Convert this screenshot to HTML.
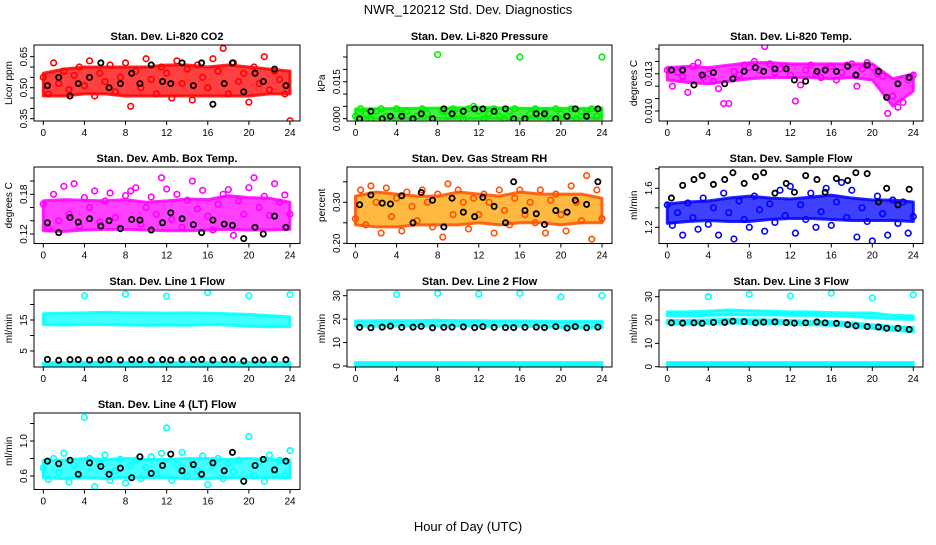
<!DOCTYPE html>
<html><head><meta charset="utf-8"><style>
html,body{margin:0;padding:0;background:#fff;}
svg text{font-family:"Liberation Sans",sans-serif;}
</style></head><body>
<svg id="chart" width="936" height="540" xmlns="http://www.w3.org/2000/svg">
<rect width="936" height="540" fill="#fff"/>
<text x="468" y="14" font-size="13" text-anchor="middle">NWR_120212  Std. Dev. Diagnostics</text>
<text x="468" y="531" font-size="13" text-anchor="middle">Hour of Day (UTC)</text>
<g id="panels"></g>
</svg>
<script>
// ---- data (band hours every 2h: 0..24) ----
const bandHours=[0,2,4,6,8,10,12,14,16,18,20,22,24];
const xTicks=[0,4,8,12,16,20,24];
// CO2
const co2Lo=[0.46,0.46,0.47,0.47,0.46,0.46,0.46,0.46,0.46,0.46,0.46,0.47,0.47];
const co2Hi=[0.57,0.59,0.60,0.60,0.60,0.60,0.61,0.61,0.60,0.61,0.60,0.59,0.58];
const co2Pts=[0.55,0.47,0.62,0.52,0.58,0.49,0.56,0.60,0.51,0.63,0.46,0.57,0.53,0.61,0.48,0.55,0.62,0.41,0.58,0.50,0.64,0.54,0.47,0.60,0.57,0.45,0.63,0.52,0.59,0.44,0.61,0.55,0.50,0.64,0.58,0.69,0.47,0.62,0.53,0.57,0.43,0.60,0.52,0.65,0.49,0.58,0.54,0.47,0.34];
const co2Blk=[0.51,0.55,0.46,0.52,0.55,0.62,0.50,0.52,0.57,0.52,0.61,0.53,0.52,0.62,0.51,0.62,0.42,0.52,0.62,0.48,0.57,0.53,0.59,0.51];
// Pressure
const prLo=[0,0,0,0,0,0,0,0,0,0,0,0,0];
const prHi=[0.0040,0.0040,0.0042,0.0042,0.0043,0.0044,0.0045,0.0044,0.0042,0.0042,0.0042,0.0042,0.0043];
const prPts=[0.001,0.004,0.002,0.000,0.003,0.004,0.001,0.000,0.004,0.002,0.003,0.000,0.001,0.004,0.002,0.000,0.026,0.003,0.001,0.004,0.002,0.000,0.004,0.005,0.003,0.000,0.002,0.004,0.001,0.000,0.003,0.004,0.025,0.000,0.002,0.004,0.001,0.003,0.000,0.004,0.002,0.001,0.004,0.000,0.003,0.002,0.004,0.001,0.025];
const prBlk=[0.000,0.003,0.000,0.001,0.001,0.000,0.002,0.000,0.004,0.002,0.003,0.004,0.004,0.003,0.004,0.000,0.000,0.002,0.002,0.000,0.001,0.004,0.001,0.004];
// Li-820 temp
const ltLo=[0.0125,0.0123,0.0122,0.0124,0.0126,0.0127,0.0127,0.0127,0.0126,0.0127,0.0125,0.0104,0.0116];
const ltHi=[0.0135,0.0136,0.0135,0.0137,0.0139,0.0139,0.0138,0.0138,0.0138,0.0138,0.0138,0.0126,0.0130];
const ltPts=[0.0133,0.0120,0.0131,0.0128,0.0115,0.0136,0.0139,0.0127,0.0130,0.0124,0.0118,0.0106,0.0106,0.0132,0.0129,0.0137,0.0135,0.0140,0.0133,0.0152,0.0138,0.0131,0.0134,0.0136,0.0129,0.0108,0.0121,0.0133,0.0137,0.0130,0.0127,0.0134,0.0136,0.0125,0.0131,0.0137,0.0138,0.0120,0.0134,0.0139,0.0135,0.0130,0.0128,0.0098,0.0112,0.0103,0.0107,0.0125,0.0129];
const ltBlk=[0.0133,0.0133,0.0121,0.0129,0.0131,0.0122,0.0126,0.0132,0.0135,0.0132,0.0134,0.0134,0.0125,0.0124,0.0132,0.0133,0.0132,0.0136,0.0129,0.0137,0.0132,0.0111,0.0122,0.0127];
// Amb box temp
const abLo=[0.125,0.124,0.126,0.127,0.127,0.126,0.125,0.125,0.126,0.127,0.126,0.126,0.127];
const abHi=[0.170,0.172,0.171,0.170,0.172,0.168,0.170,0.173,0.172,0.178,0.175,0.174,0.168];
const abPts=[0.165,0.128,0.180,0.140,0.192,0.150,0.196,0.132,0.175,0.160,0.185,0.138,0.170,0.182,0.145,0.129,0.178,0.185,0.190,0.135,0.160,0.176,0.150,0.205,0.188,0.142,0.180,0.130,0.171,0.200,0.158,0.186,0.147,0.126,0.165,0.180,0.187,0.118,0.170,0.150,0.190,0.205,0.160,0.177,0.148,0.196,0.168,0.179,0.150];
const abBlk=[0.137,0.122,0.145,0.138,0.143,0.132,0.140,0.128,0.142,0.141,0.126,0.137,0.152,0.143,0.134,0.122,0.141,0.135,0.133,0.113,0.130,0.120,0.147,0.130];
// Gas stream RH
const rhLo=[0.245,0.240,0.240,0.245,0.245,0.245,0.250,0.245,0.250,0.250,0.245,0.250,0.250];
const rhHi=[0.315,0.325,0.320,0.315,0.315,0.325,0.320,0.315,0.325,0.320,0.320,0.320,0.310];
const rhPts=[0.260,0.330,0.245,0.340,0.300,0.225,0.335,0.265,0.310,0.230,0.325,0.290,0.255,0.330,0.300,0.240,0.320,0.215,0.345,0.270,0.330,0.300,0.235,0.310,0.270,0.320,0.300,0.225,0.330,0.280,0.245,0.310,0.330,0.270,0.300,0.250,0.330,0.225,0.305,0.320,0.270,0.230,0.340,0.300,0.255,0.365,0.210,0.330,0.260];
const rhBlk=[0.294,0.318,0.298,0.296,0.316,0.250,0.324,0.305,0.240,0.310,0.276,0.265,0.312,0.290,0.250,0.350,0.280,0.272,0.246,0.280,0.276,0.305,0.295,0.350];
// Sample flow
const sfLo=[1.24,1.26,1.27,1.26,1.26,1.28,1.29,1.29,1.28,1.27,1.27,1.27,1.26];
const sfHi=[1.44,1.46,1.47,1.50,1.52,1.50,1.49,1.51,1.53,1.50,1.48,1.48,1.46];
const sfPts=[1.43,1.22,1.35,1.12,1.45,1.30,1.18,1.50,1.23,1.40,1.12,1.55,1.35,1.08,1.47,1.28,1.20,1.52,1.38,1.16,1.44,1.25,1.58,1.32,1.62,1.14,1.43,1.28,1.55,1.20,1.36,1.60,1.22,1.46,1.66,1.30,1.58,1.10,1.40,1.26,1.06,1.52,1.34,1.12,1.48,1.24,1.46,1.14,1.31];
const sfBlk=[1.50,1.63,1.69,1.73,1.64,1.69,1.76,1.65,1.72,1.76,1.55,1.65,1.56,1.73,1.69,1.56,1.70,1.68,1.76,1.75,1.46,1.60,1.43,1.59];
// Line 1 flow
const l1ALo=[13.5,13.4,13.5,13.5,13.4,13.3,13.4,13.3,13.5,13.4,13.0,12.8,12.9];
const l1AHi=[17.0,17.2,17.3,17.5,17.3,17.3,17.2,17.3,17.2,17.0,16.8,16.4,16.0];
const l1BLo=[0.2,0.2,0.2,0.2,0.2,0.2,0.2,0.2,0.2,0.2,0.2,0.2,0.2];
const l1BHi=[1.2,1.3,1.3,1.3,1.3,1.3,1.3,1.3,1.3,1.3,1.3,1.3,1.3];
const l1OutH=[4,8,12,16,20,24];
const l1OutV=[22.8,23.3,22.7,23.8,22.8,23.2];
const l1Blk=[2.3,2.0,2.2,2.2,2.1,2.1,2.3,2.1,2.2,2.2,2.1,2.2,2.1,2.2,2.2,2.3,2.1,2.2,2.2,1.8,2.1,2.1,2.3,2.2];
// Line 2 flow
const l2ALo=[17.0,17.0,17.0,17.0,17.1,17.1,17.0,17.0,17.0,16.8,16.5,16.5,16.5];
const l2AHi=[19.2,19.3,19.3,19.3,19.5,19.3,19.3,19.2,19.2,19.1,19.0,19.0,19.0];
const l2BLo=[0.0,0.0,0.0,0.0,0.0,0.0,0.0,0.0,0.0,0.0,0.0,0.0,0.0];
const l2BHi=[1.5,1.5,1.5,1.5,1.5,1.5,1.5,1.5,1.5,1.5,1.5,1.5,1.5];
const l2OutH=[4,8,12,16,20,24];
const l2OutV=[30.5,31.0,30.7,31.0,29.5,30.0];
const l2Blk=[16.5,16.3,16.6,17.0,16.5,16.6,16.9,16.3,16.5,16.6,16.7,16.4,16.8,16.5,16.4,16.4,16.5,16.6,16.4,16.8,16.2,16.8,16.3,16.6];
// Line 3 flow
const l3ALo=[21.8,21.8,22.0,22.3,22.2,22.2,22.0,22.0,21.8,21.5,21.0,20.5,20.3];
const l3AHi=[23.5,23.5,23.8,24.3,24.0,23.8,23.5,23.5,23.2,23.0,23.0,22.0,21.8];
const l3CLo=[18.3,18.3,18.5,18.8,18.5,18.5,18.3,18.0,17.8,17.3,16.5,15.5,15.0];
const l3CHi=[19.8,19.8,20.0,20.3,20.2,20.0,19.8,19.5,19.3,18.8,18.0,17.2,16.8];
const l3BLo=[0.5,0.5,0.5,0.5,0.5,0.5,0.5,0.5,0.5,0.5,0.5,0.5,0.5];
const l3BHi=[1.8,1.8,1.8,1.8,1.8,1.8,1.8,1.8,1.8,1.8,1.8,1.8,1.8];
const l3OutH=[4,8,12,16,20,24];
const l3OutV=[30.0,31.0,30.3,31.5,29.5,30.8];
const l3Blk=[18.8,18.7,18.8,18.6,19.0,19.0,19.5,19.3,18.8,19.1,19.2,18.9,18.7,18.8,19.2,18.8,18.6,18.0,17.5,17.2,17.0,16.5,16.5,16.0];
// Line 4 flow
const l4Lo=[0.58,0.57,0.58,0.57,0.58,0.58,0.58,0.57,0.57,0.58,0.58,0.58,0.58];
const l4Hi=[0.78,0.78,0.80,0.79,0.80,0.79,0.79,0.80,0.80,0.79,0.80,0.79,0.78];
const l4Pts=[0.69,0.56,0.80,0.64,0.86,0.53,0.72,0.60,1.27,0.80,0.48,0.74,0.84,0.55,0.66,0.79,0.52,0.72,0.78,0.57,0.70,0.82,0.62,0.86,1.15,0.55,0.73,0.87,0.60,0.76,0.66,0.83,0.50,0.72,0.80,0.57,0.74,0.65,0.78,0.54,1.05,0.60,0.76,0.54,0.84,0.62,0.78,0.60,0.89];
const l4Blk=[0.77,0.74,0.78,0.62,0.75,0.71,0.62,0.69,0.58,0.82,0.63,0.72,0.85,0.66,0.73,0.62,0.75,0.66,0.87,0.54,0.72,0.79,0.67,0.77];

// ---- layout ----
const cols=[{x0:34,x1:300,h0:43.3,h24:290},{x0:347,x1:612,h0:355.5,h24:602},{x0:659,x1:923,h0:667.3,h24:913.3}];
const rows=[{y0:45,y1:121},{y0:167,y1:243.5},{y0:290,y1:367},{y0:413,y1:489.5}];
const panels=[
 {name:'co2',title:'Stan. Dev. Li-820 CO2',ylab:'Licor ppm',c:0,r:0,a:[0.35,118.7],b:[0.65,56.7],ticks:[0.35,0.40,0.45,0.50,0.55,0.60,0.65],labels:{'0.35':'0.35','0.5':'0.50','0.65':'0.65'},col:'#ff0000',bands:[[co2Lo,co2Hi]],pts:co2Pts,blk:co2Blk},
 {name:'pressure',title:'Stan. Dev. Li-820 Pressure',ylab:'kPa',c:1,r:0,a:[0,118.7],b:[0.015,81.7],ticks:[0,0.005,0.01,0.015,0.02,0.025],labels:{'0':'0.000','0.015':'0.015'},col:'#00ee00',bands:[[prLo,prHi]],pts:prPts,blk:prBlk},
 {name:'li820-temp',title:'Stan. Dev. Li-820 Temp.',ylab:'degrees C',c:2,r:0,a:[0.010,111],b:[0.015,49],ticks:[0.010,0.011,0.012,0.013,0.014,0.015],labels:{'0.01':'0.010','0.013':'0.013'},col:'#ff00ff',bands:[[ltLo,ltHi]],pts:ltPts,blk:ltBlk},
 {name:'amb-box-temp',title:'Stan. Dev. Amb. Box Temp.',ylab:'degrees C',c:0,r:1,a:[0.12,234],b:[0.18,194.3],ticks:[0.12,0.14,0.16,0.18,0.2],labels:{'0.12':'0.12','0.18':'0.18'},col:'#ff00ff',bands:[[abLo,abHi]],pts:abPts,blk:abBlk},
 {name:'gas-rh',title:'Stan. Dev. Gas Stream RH',ylab:'percent',c:1,r:1,a:[0.20,243.3],b:[0.30,202.3],ticks:[0.2,0.25,0.3,0.35],labels:{'0.2':'0.20','0.3':'0.30'},col:'#ffa000',stroke:'#ff5000',bands:[[rhLo,rhHi]],pts:rhPts,blk:rhBlk},
 {name:'sample-flow',title:'Stan. Dev. Sample Flow',ylab:'ml/min',c:2,r:1,a:[1.2,227.3],b:[1.6,188.3],ticks:[1.2,1.4,1.6,1.8],labels:{'1.2':'1.2','1.6':'1.6'},col:'#0000ff',bands:[[sfLo,sfHi]],pts:sfPts,blk:sfBlk},
 {name:'line1-flow',title:'Stan. Dev. Line 1 Flow',ylab:'ml/min',c:0,r:2,a:[5,351],b:[15,320],ticks:[5,10,15,20],labels:{'5':'5','15':'15'},col:'#00ffff',bands:[[l1ALo,l1AHi],[l1BLo,l1BHi]],outH:l1OutH,outV:l1OutV,blk:l1Blk},
 {name:'line2-flow',title:'Stan. Dev. Line 2 Flow',ylab:'ml/min',c:1,r:2,a:[0,366],b:[30,295.7],ticks:[0,10,20,30],labels:{'0':'0','10':'10','20':'20','30':'30'},col:'#00ffff',bands:[[l2ALo,l2AHi],[l2BLo,l2BHi]],outH:l2OutH,outV:l2OutV,blk:l2Blk},
 {name:'line3-flow',title:'Stan. Dev. Line 3 Flow',ylab:'ml/min',c:2,r:2,a:[0,366.7],b:[30,296.7],ticks:[0,10,20,30],labels:{'0':'0','10':'10','20':'20','30':'30'},col:'#00ffff',bands:[[l3ALo,l3AHi],[l3CLo,l3CHi],[l3BLo,l3BHi]],outH:l3OutH,outV:l3OutV,blk:l3Blk},
 {name:'line4-flow',title:'Stan. Dev. Line 4 (LT) Flow',ylab:'ml/min',c:0,r:3,a:[0.6,476],b:[1.0,441],ticks:[0.6,0.8,1.0,1.2],labels:{'0.6':'0.6','1':'1.0'},col:'#00ffff',bands:[[l4Lo,l4Hi]],pts:l4Pts,blk:l4Blk}
];
const NS='http://www.w3.org/2000/svg';
function mk(tag,attrs,parent){const e=document.createElementNS(NS,tag);for(const k in attrs)e.setAttribute(k,attrs[k]);parent.appendChild(e);return e;}
const root=document.getElementById('panels');
panels.forEach(p=>{
  const C=cols[p.c],R=rows[p.r];
  const xs=h=>C.h0+(C.h24-C.h0)*h/24;
  const ys=v=>p.a[1]+(v-p.a[0])*(p.b[1]-p.a[1])/(p.b[0]-p.a[0]);
  const g=mk('g',{},root);
  
  
  const defs=mk('clipPath',{id:'clip-'+p.name},g);
  mk('rect',{x:C.x0,y:R.y0,width:C.x1-C.x0,height:R.y1-R.y0},defs);
  const t=mk('text',{x:(C.x0+C.x1)/2,y:R.y0-5,'font-size':11,'font-weight':'bold','text-anchor':'middle'},g);
  t.textContent=p.title;
  
  
  const yl=mk('text',{x:C.x0-22,y:(R.y0+R.y1)/2,'font-size':10,'text-anchor':'middle',transform:`rotate(-90 ${C.x0-22} ${(R.y0+R.y1)/2})`},g);
  yl.textContent=p.ylab;
  
  
  const pg=mk('g',{'clip-path':`url(#clip-${p.name})`},g);
  p.bands.forEach(bd=>{
    const lo=bd[0],hi=bd[1];
    let pts=bandHours.map((h,i)=>xs(h)+','+ys(hi[i]));
    pts=pts.concat(bandHours.slice().reverse().map((h,j)=>{const i=bandHours.length-1-j;return xs(h)+','+ys(lo[i]);}));
    const poly=mk('polygon',{points:pts.join(' '),fill:p.col,stroke:p.stroke||p.col,'stroke-width':3,'stroke-linejoin':'round','fill-opacity':0.75,'stroke-opacity':0.85},pg);
    
    
  });
  if(p.pts){p.pts.forEach((v,i)=>{
    const c=mk('circle',{cx:xs(i*0.5),cy:ys(v),r:2.8,fill:'none',stroke:p.stroke||p.col,'stroke-width':1.6},pg);
    
    
  });}
  if(p.outH){p.outH.forEach((h,i)=>{
    const c=mk('circle',{cx:xs(h),cy:ys(p.outV[i]),r:2.8,fill:'none',stroke:p.col,'stroke-width':1.6},pg);
    
    
  });}
  p.blk.forEach((v,i)=>{
    const c=mk('circle',{cx:xs(i+0.5+0.1*((i%3)-1)),cy:ys(v),r:2.6,fill:'none',stroke:'#000','stroke-width':1.8},pg);
    
    
  });
  const box=mk('rect',{x:C.x0,y:R.y0,width:C.x1-C.x0,height:R.y1-R.y0,fill:'none',stroke:'#000','stroke-width':1},g);
  
  
  mk('line',{x1:xs(0),x2:xs(24),y1:R.y1,y2:R.y1,stroke:'#000'},g);
  xTicks.forEach(h=>{
    mk('line',{x1:xs(h),x2:xs(h),y1:R.y1,y2:R.y1+4,stroke:'#000'},g);
    const tl=mk('text',{x:xs(h),y:R.y1+15,'font-size':10,'text-anchor':'middle'},g);
    tl.textContent=h;
    
    
  });
  const tk=p.ticks;
  mk('line',{x1:C.x0,x2:C.x0,y1:ys(tk[0]),y2:ys(tk[tk.length-1]),stroke:'#000'},g);
  tk.forEach(v=>{
    const y=ys(v);
    mk('line',{x1:C.x0-4,x2:C.x0,y1:y,y2:y,stroke:'#000'},g);
    const key=String(+v.toFixed(4));
    if(p.labels[key]!==undefined){
      const tl=mk('text',{x:C.x0-7,y:y,'font-size':10,'text-anchor':'middle',transform:`rotate(-90 ${C.x0-7} ${y})`},g);
      tl.textContent=p.labels[key];
      
      
    }
  });
});
</script>
</body></html>
